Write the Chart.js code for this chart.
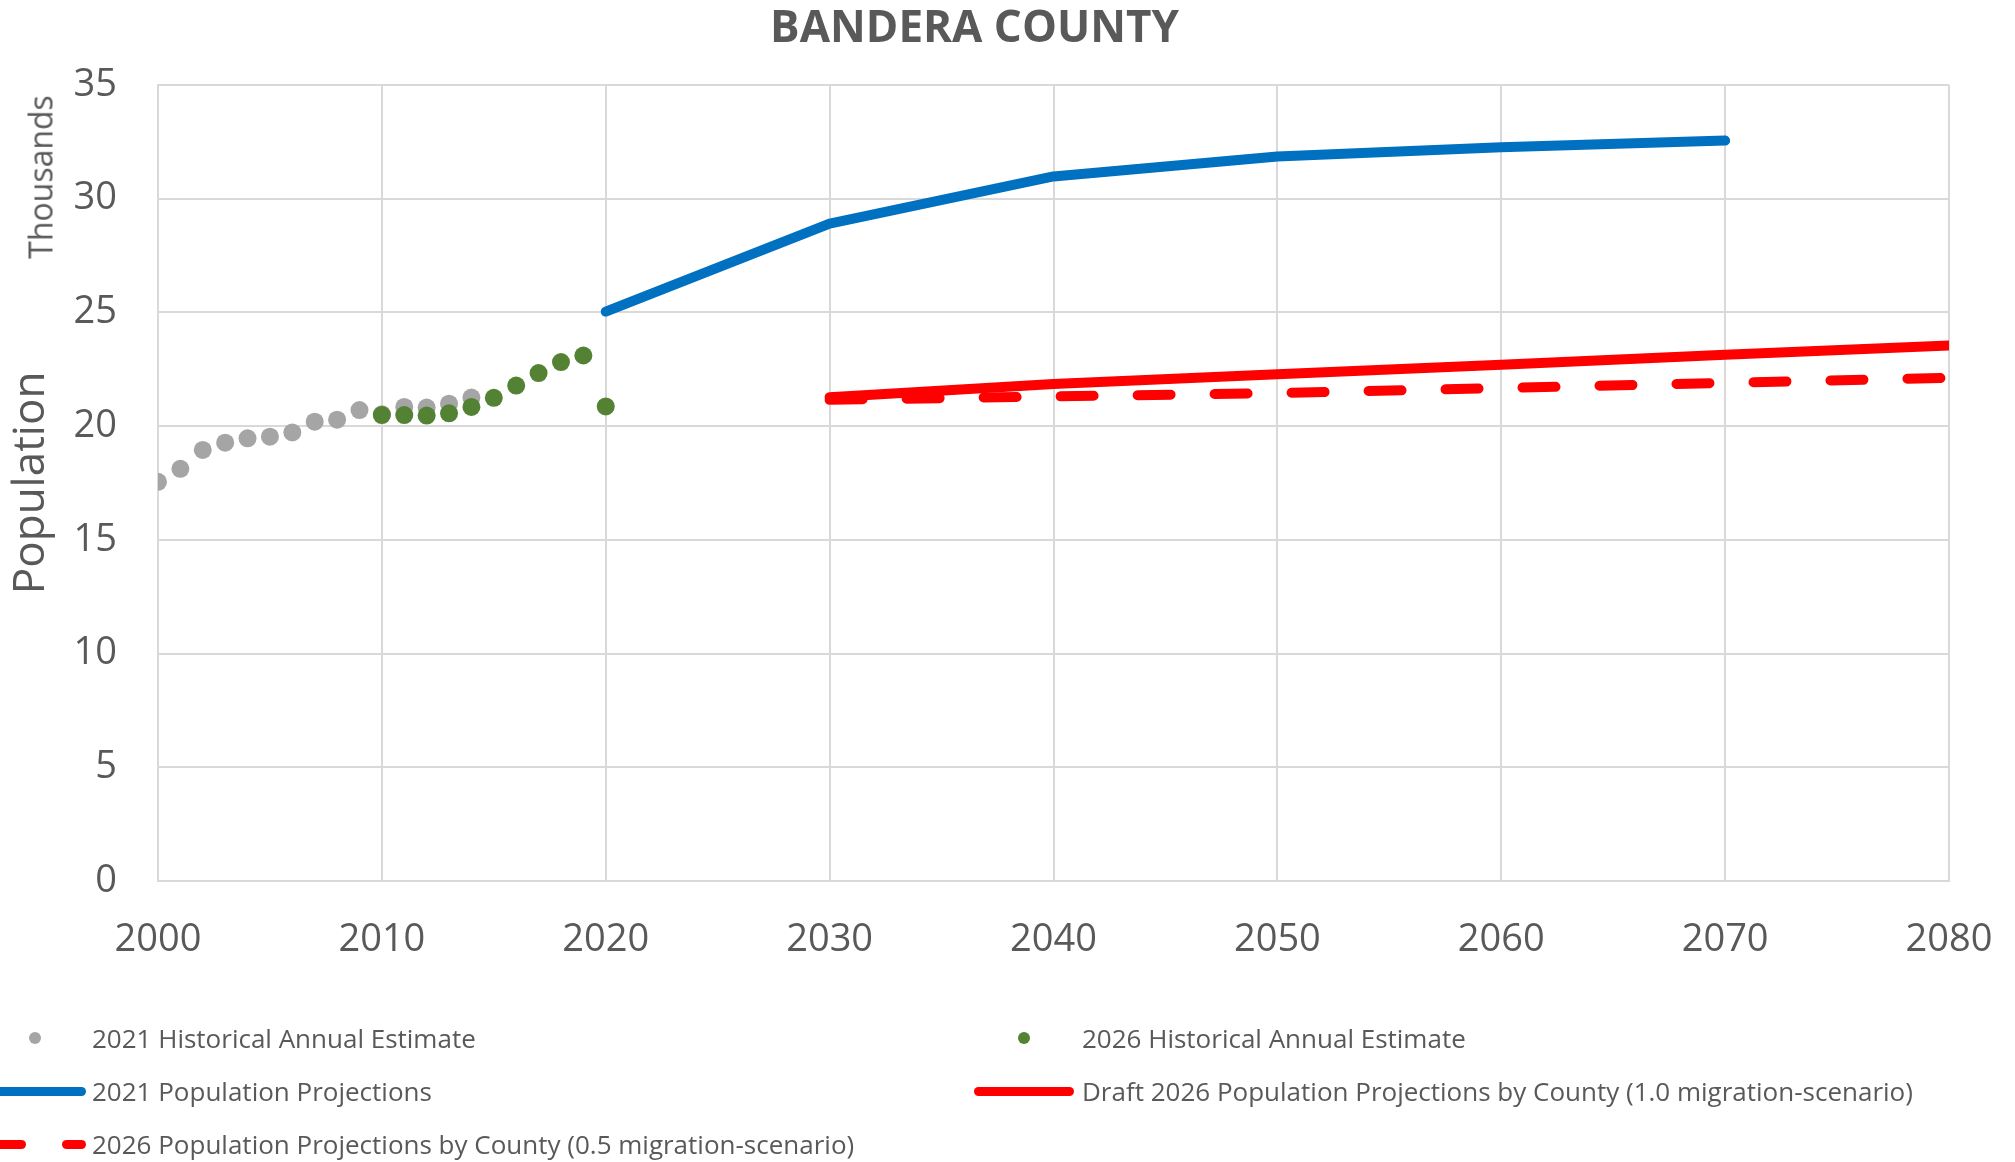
<!DOCTYPE html>
<html lang="en">
<head>
    <meta charset="UTF-8">
    <title>Bandera County</title>
    <style>
        body {
            margin: 0;
            padding: 0;
            background-color: #fff;
            font-family: "Open Sans", sans-serif;
        }
        .wrap {
            position: relative;
            width: 2015px;
            height: 1162px;
        }
        .thousands {
            position: absolute;
            left: 40px;
            top: 177px;
            transform: translate(-50%, -50%) rotate(-90deg);
            font-size: 32px;
            color: #595959;
            white-space: nowrap;
        }
        .legend-item {
            position: absolute;
            font-size: 26px;
            color: #595959;
            white-space: nowrap;
            line-height: 34px;
            height: 34px;
        }
        .mark {
            position: absolute;
        }
    </style>
</head>
<body>

<div class="wrap">
    <canvas id="popChart" width="2015" height="1162"></canvas>
    <div class="thousands">Thousands</div>

    <!-- Legend -->
    <span class="mark" style="left:29px;top:1032px;width:12px;height:12px;border-radius:6px;background:#a5a5a5"></span>
    <div class="legend-item" style="left:92px;top:1021px">2021 Historical Annual Estimate</div>

    <span class="mark" style="left:1018px;top:1032px;width:12px;height:12px;border-radius:6px;background:#548235"></span>
    <div class="legend-item" style="left:1082px;top:1021px">2026 Historical Annual Estimate</div>

    <span class="mark" style="left:-6px;top:1087px;width:92px;height:9px;border-radius:5px;background:#0070c0"></span>
    <div class="legend-item" style="left:92px;top:1074px">2021 Population Projections</div>

    <span class="mark" style="left:974px;top:1087px;width:100px;height:9px;border-radius:5px;background:#ff0000"></span>
    <div class="legend-item" style="left:1082px;top:1074px">Draft 2026 Population Projections by County (1.0 migration-scenario)</div>

    <span class="mark" style="left:-6px;top:1140px;width:32px;height:9px;border-radius:5px;background:#ff0000"></span>
    <span class="mark" style="left:62px;top:1140px;width:24px;height:9px;border-radius:5px;background:#ff0000"></span>
    <div class="legend-item" style="left:92px;top:1127px">2026 Population Projections by County (0.5 migration-scenario)</div>
</div>

<script src="https://cdn.jsdelivr.net/npm/chart.js"></script>

<script>
    // population in thousands
    const hist2021Years = [2000, 2001, 2002, 2003, 2004, 2005, 2006, 2007, 2008, 2009, 2010, 2011, 2012, 2013, 2014];
    const hist2021Values = [17.55, 18.12, 18.95, 19.27, 19.46, 19.53, 19.72, 20.19, 20.28, 20.70, 20.52, 20.84, 20.81, 20.98, 21.25];

    const hist2026Years = [2010, 2011, 2012, 2013, 2014, 2015, 2016, 2017, 2018, 2019, 2020];
    const hist2026Values = [20.48, 20.48, 20.46, 20.56, 20.84, 21.24, 21.78, 22.33, 22.81, 23.10, 20.86];

    const proj2021Years = [2020, 2030, 2040, 2050, 2060, 2070];
    const proj2021Values = [25.03, 28.90, 30.97, 31.85, 32.26, 32.55];

    const proj2026Years = [2030, 2040, 2050, 2060, 2070, 2080];
    const proj2026Full = [21.27, 21.85, 22.28, 22.69, 23.13, 23.54];
    const proj2026Half = [21.15, 21.30, 21.45, 21.67, 21.90, 22.12];

    const yearTicks = [2000, 2010, 2020, 2030, 2040, 2050, 2060, 2070, 2080];
    const popTicks = [0, 5, 10, 15, 20, 25, 30, 35];

    function toPoints(xs, ys) {
        return xs.map((x, i) => ({ x: x, y: ys[i] }));
    }

    const gridColor = '#d9d9d9';
    const textColor = '#595959';

    const ctx = document.getElementById('popChart').getContext('2d');
    const popChart = new Chart(ctx, {
        type: 'line',
        data: {
            datasets: [
                {
                    label: '2026 Historical Annual Estimate',
                    data: toPoints(hist2026Years, hist2026Values),
                    showLine: false,
                    pointRadius: 9,
                    pointBorderWidth: 0,
                    backgroundColor: '#548235',
                    borderColor: '#548235'
                },
                {
                    label: '2021 Historical Annual Estimate',
                    data: toPoints(hist2021Years, hist2021Values),
                    showLine: false,
                    pointRadius: 9,
                    pointBorderWidth: 0,
                    backgroundColor: '#a5a5a5',
                    borderColor: '#a5a5a5'
                },
                {
                    label: '2021 Population Projections',
                    data: toPoints(proj2021Years, proj2021Values),
                    borderColor: '#0070c0',
                    borderWidth: 10,
                    borderCapStyle: 'round',
                    borderJoinStyle: 'round',
                    pointRadius: 0
                },
                {
                    label: 'Draft 2026 Population Projections by County (1.0 migration-scenario)',
                    data: toPoints(proj2026Years, proj2026Full),
                    borderColor: '#ff0000',
                    borderWidth: 10,
                    borderCapStyle: 'round',
                    borderJoinStyle: 'round',
                    pointRadius: 0
                },
                {
                    label: '2026 Population Projections by County (0.5 migration-scenario)',
                    data: toPoints(proj2026Years, proj2026Half),
                    borderColor: '#ff0000',
                    borderWidth: 10,
                    borderDash: [33, 44],
                    borderCapStyle: 'round',
                    borderJoinStyle: 'round',
                    pointRadius: 0
                }
            ]
        },
        options: {
            responsive: false,
            animation: false,
            devicePixelRatio: 1,
            layout: {
                padding: { left: 0, right: 66, top: 0, bottom: 201 }
            },
            plugins: {
                legend: { display: false },
                tooltip: { enabled: false },
                title: {
                    display: true,
                    text: 'BANDERA COUNTY',
                    color: textColor,
                    font: { family: 'Open Sans', size: 44, weight: 'bold', lineHeight: 1.2 },
                    padding: { top: 3, bottom: 29 }
                }
            },
            scales: {
                x: {
                    type: 'linear',
                    min: 2000,
                    max: 2080,
                    afterBuildTicks: scale => {
                        scale.ticks = yearTicks.map(v => ({ value: v }));
                    },
                    afterFit: scale => {
                        scale.height = 80;
                        // let layout padding decide the side margins
                        scale.paddingLeft = 0;
                        scale.paddingRight = 0;
                    },
                    ticks: {
                        color: textColor,
                        font: { family: 'Open Sans', size: 38 },
                        padding: 36,
                        maxRotation: 0,
                        callback: v => String(v)
                    },
                    grid: { color: gridColor, lineWidth: 2, drawTicks: false },
                    border: { color: gridColor, width: 2 }
                },
                y: {
                    min: 0,
                    max: 35,
                    afterBuildTicks: scale => {
                        scale.ticks = popTicks.map(v => ({ value: v }));
                    },
                    afterFit: scale => {
                        scale.width = 158;
                    },
                    ticks: {
                        color: textColor,
                        font: { family: 'Open Sans', size: 38 },
                        padding: 41
                    },
                    grid: { color: gridColor, lineWidth: 2, drawTicks: false },
                    border: { color: gridColor, width: 2 },
                    title: {
                        display: true,
                        text: 'Population',
                        color: textColor,
                        font: { family: 'Open Sans', size: 44 },
                        padding: { top: 5, bottom: 0 }
                    }
                }
            }
        }
    });
</script>

</body>
</html>
